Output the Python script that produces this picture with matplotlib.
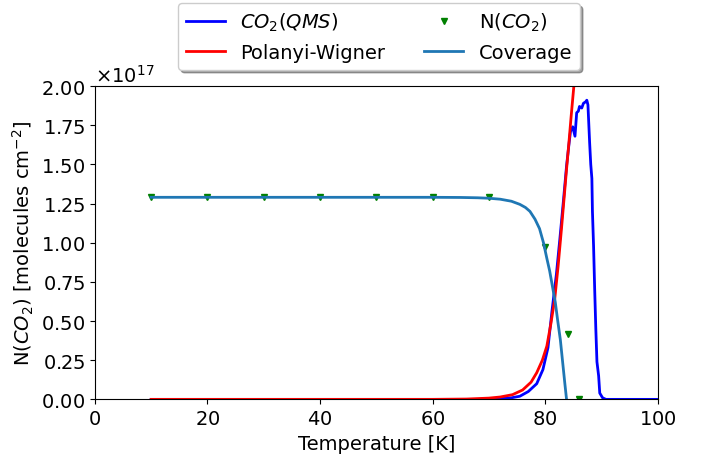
import numpy as np
import matplotlib
matplotlib.use("Agg")
import matplotlib.pyplot as plt

# QMS desorption signal
t_qms = [10, 60, 68, 72, 74, 75.5, 77, 78.5, 79.6, 80.5, 81.2, 82.0, 82.6, 83.2, 83.8,
         84.2, 84.5, 84.9, 85.3, 85.6, 85.9, 86.1, 86.5, 86.8, 87.2, 87.4, 87.6,
         87.9, 88.1, 88.3, 88.4, 88.6, 88.8, 89.0, 89.2, 89.5, 89.7, 90.2, 90.8, 100]
n_qms = [0, 0, 0.0, 0.005, 0.01, 0.02, 0.05, 0.10, 0.19, 0.33, 0.56, 0.80, 1.02, 1.25, 1.49,
         1.62, 1.71, 1.74, 1.68, 1.83, 1.84, 1.87, 1.86, 1.89, 1.90, 1.91, 1.88,
         1.64, 1.50, 1.41, 1.20, 0.98, 0.70, 0.45, 0.24, 0.15, 0.04, 0.01, 0.0, 0.0]

# Polanyi-Wigner fit
t_pw = [10, 60, 66, 70, 72, 74.2, 76, 77.5, 78.5, 79.5, 80.3, 81.0, 81.7, 82.3, 82.9,
        83.4, 83.8, 84.2, 84.6, 85.1, 85.3]
n_pw = [0, 0, 0.002, 0.008, 0.015, 0.03, 0.06, 0.11, 0.17, 0.25, 0.34, 0.48, 0.64, 0.85, 1.09,
        1.30, 1.47, 1.63, 1.80, 2.0, 2.1]

# Coverage
t_cov = [10, 60, 65, 68, 70, 72, 74, 75.5, 76.5, 77.3, 78.2, 79.0, 79.7, 80.3, 80.8,
         81.3, 81.8, 82.2, 82.7, 83.1, 83.5, 83.8]
n_cov = [1.29, 1.29, 1.289, 1.287, 1.284, 1.278, 1.265, 1.245, 1.225, 1.20, 1.15, 1.09,
         1.00, 0.90, 0.82, 0.72, 0.62, 0.51, 0.38, 0.24, 0.10, 0.0]

# N(CO2) points
t_n = [10, 20, 30, 40, 50, 60, 70, 80, 84, 86]
n_n = [1.29, 1.29, 1.29, 1.29, 1.29, 1.29, 1.29, 0.97, 0.42, 0.0]

scale = 1e17

plt.rcParams["font.size"] = 14
plt.rcParams["axes.formatter.use_mathtext"] = True
fig = plt.figure(figsize=(7.08, 4.56), dpi=100)
ax = fig.add_axes([0.134, 0.122, 0.795, 0.687])

ax.plot(t_qms, np.array(n_qms) * scale, color="blue", linewidth=2, label="$CO_2(QMS)$")
ax.plot(t_pw, np.array(n_pw) * scale, color="red", linewidth=2, label="Polanyi-Wigner")
ax.plot(t_n, np.array(n_n) * scale, "v", color="green", markersize=5, label="N($CO_2$)")
ax.plot(t_cov, np.array(n_cov) * scale, color="tab:blue", linewidth=2, label="Coverage")

ax.set_xlim(0, 100)
ax.set_ylim(0, 2e17)
ax.set_yticks(np.arange(0, 2.01e17, 0.25e17))
ax.set_xlabel("Temperature [K]")
ax.set_ylabel("N($CO_2$) [molecules cm$^{-2}$]")

ax.legend(ncol=2, loc="upper center", bbox_to_anchor=(0.505, 1.295), shadow=True)

fig.savefig("out.png", dpi=100)
